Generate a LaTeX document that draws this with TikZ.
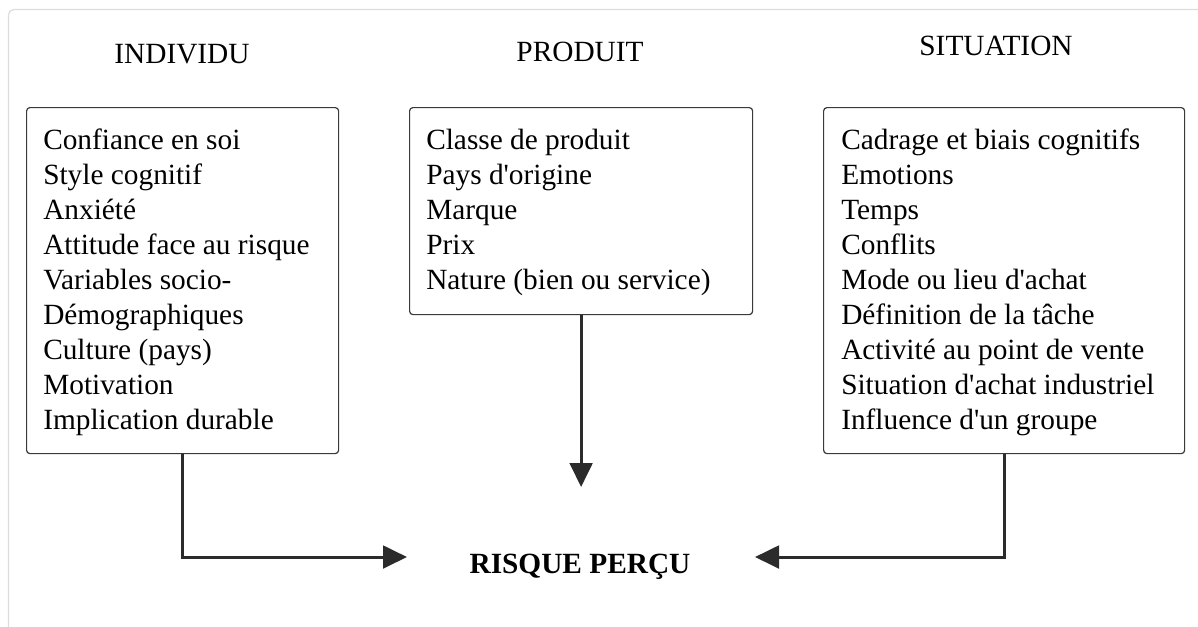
\documentclass[tikz,border=0pt]{standalone}
\usepackage{fontspec}
\setmainfont{Liberation Serif}
\usetikzlibrary{arrows.meta}
\definecolor{framegray}{HTML}{DCDCDC}
\definecolor{ink}{HTML}{2B2B2B}
\definecolor{boxline}{HTML}{3A3A3A}
\newcommand{\apos}{\textquotesingle}
\tikzset{
  boxshape/.style={draw=boxline, line width=0.9pt, rounded corners=2.5pt, rectangle, inner sep=0pt},
  listtext/.style={align=left, inner sep=0pt, font=\fontsize{22}{26.25}\selectfont, anchor=north west},
  titletext/.style={inner sep=0pt, font=\fontsize{22}{26.25}\selectfont, anchor=base},
  risktext/.style={inner sep=0pt, font=\fontsize{22}{26.25}\selectfont\bfseries, anchor=base},
  arr/.style={draw=ink, line width=2.25pt, -{Triangle[length=18pt,width=17pt]}}
}
\begin{document}
\begin{tikzpicture}[x=0.75pt,y=-0.75pt]
\useasboundingbox (0,0) rectangle (1198,626);
\clip (0,0) rectangle (1198,626);
\draw[framegray, line width=0.9pt, rounded corners=4pt] (8.5,700) -- (8.5,9.5) -- (1300,9.5);

% titles
\node[titletext] (tInd) at (182,63) {INDIVIDU};
\node[titletext] (tProd) at (580,61) {PRODUIT};
\node[titletext] (tSit) at (996,55) {SITUATION};

% boxes
\node[boxshape, anchor=north west, minimum width=234pt, minimum height=259.5pt] (bInd) at (26,107) {};
\node[boxshape, anchor=north west, minimum width=257.25pt, minimum height=155.25pt] (bProd) at (409,107) {};
\node[boxshape, anchor=north west, minimum width=270.75pt, minimum height=259.5pt] (bSit) at (823,107) {};

% lists
\node[listtext] (lInd) at (43,124.5) {\strut Confiance en soi\\Style cognitif\\Anxiété\\Attitude face au risque\\Variables socio-\\Démographiques\\Culture (pays)\\Motivation\\Implication durable};
\node[listtext] (lProd) at (426,124.5) {\strut Classe de produit\\Pays d\apos origine\\Marque\\Prix\\Nature (bien ou service)};
\node[listtext] (lSit) at (841,124.5) {\strut Cadrage et biais cognitifs\\Emotions\\Temps\\Conflits\\Mode ou lieu d\apos achat\\Définition de la tâche\\Activité au point de vente\\Situation d\apos achat industriel\\Influence d\apos un groupe};

% result
\node[risktext] (risk) at (580,573) {RISQUE PERÇU};

\coordinate (tipL) at (407,557);
\coordinate (tipR) at (755,557);
\coordinate (tipM) at (581,487);

\draw[arr] (bInd.south) |- (tipL);
\draw[arr] (bSit.south) |- (tipR);
\draw[arr] (bProd.south) -- (bProd.south |- tipM);
\end{tikzpicture}
\end{document}
